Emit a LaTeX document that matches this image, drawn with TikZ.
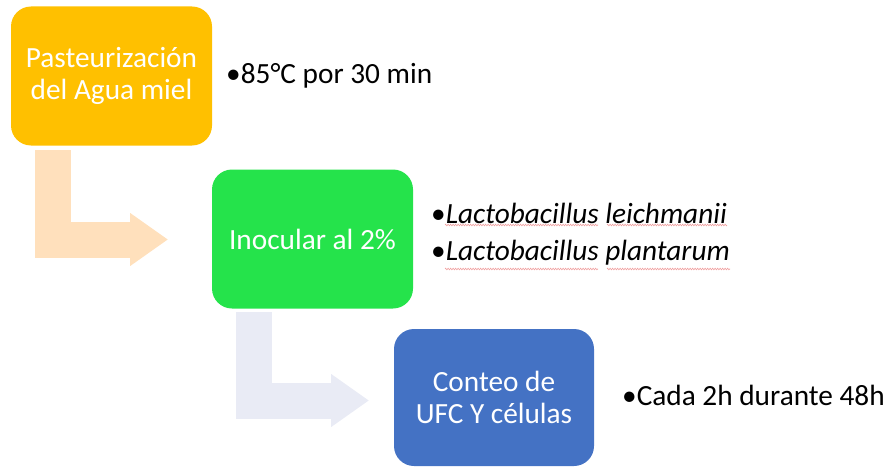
\documentclass[tikz,border=0pt]{standalone}
\usepackage{fontspec}
\setmainfont{Carlito}
\usepackage{tikz}
\usetikzlibrary{arrows.meta, decorations.pathmorphing}
\definecolor{pastorange}{HTML}{FFC000}
\definecolor{inocgreen}{HTML}{25E34B}
\definecolor{conteoblue}{HTML}{4472C4}
\definecolor{peach}{HTML}{FFE0BC}
\definecolor{lavender}{HTML}{E9EBF5}
\definecolor{spellred}{HTML}{F0A0A0}
\tikzstyle{cell} = [rectangle, rounded corners=20pt, minimum width=201pt, minimum height=139pt, text=white, align=center, font=\fontsize{29.3}{32}\selectfont]
\tikzstyle{pcell} = [cell, fill=pastorange]
\tikzstyle{icell} = [cell, fill=inocgreen]
\tikzstyle{ccell} = [cell, fill=conteoblue, minimum width=200pt, minimum height=137pt]
\tikzstyle{btext} = [anchor=base west, inner sep=0pt, font=\fontsize{29.3}{32}\selectfont]
\tikzstyle{bent} = [line width=36pt, -{Triangle[length=37.5pt, width=53pt, line width=0pt]}]
\tikzstyle{squig} = [draw=spellred, line width=0.6pt, decorate, decoration={zigzag, amplitude=0.8pt, segment length=2.5pt}]

\begin{document}
\begin{tikzpicture}[x=1pt, y=-1pt]
    \useasboundingbox (0,0) rectangle (890,468);

    \node[pcell] (past) at (111.5,76) {Pasteurización\\del Agua miel};
    \node[icell] (inoc) at (312.5,239) {Inocular al 2\%};
    \node[ccell] (conteo) at (494,397.5) {Conteo de\\UFC Y células};

    \node[btext] (temp) at (226,84) {•85°C por 30 min};
    \node[btext] (leich) at (431,223) {•\textit{Lactobacillus leichmanii}};
    \node[btext] (plant) at (431,260) {•\textit{Lactobacillus plantarum}};
    \node[btext] (cada) at (622,405) {•Cada 2h durante 48h};

    \coordinate (a1s) at (53,150);
    \coordinate (a1e) at (167.7,239.5);
    \coordinate (a2s) at (254,312);
    \coordinate (a2e) at (368.7,400.5);
    \draw[bent, draw=peach] (a1s) |- (a1e);
    \draw[bent, draw=lavender] (a2s) |- (a2e);

    \path[squig] (445,225) -- (598,225);
    \path[squig] (607,225) -- (727,225);
    \path[squig] (445,269) -- (598,269);
    \path[squig] (607,269) -- (730,269);
\end{tikzpicture}
\end{document}
